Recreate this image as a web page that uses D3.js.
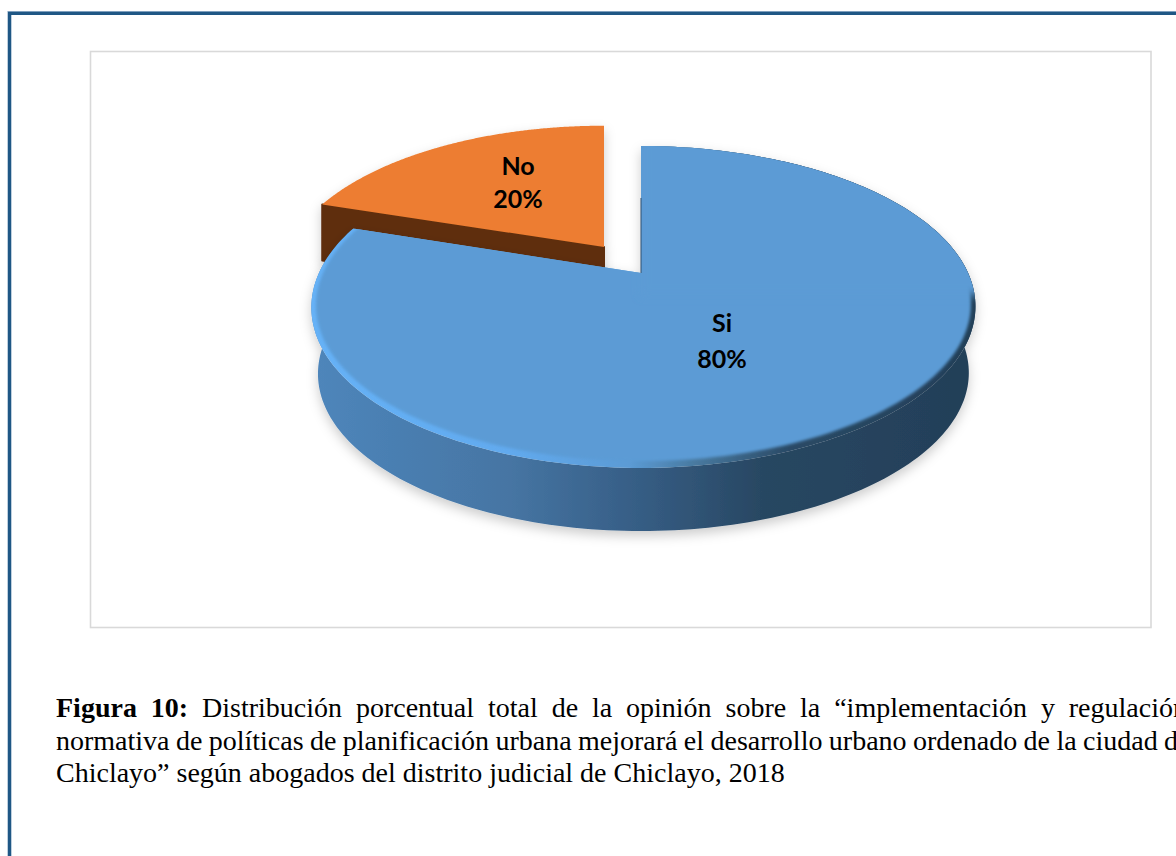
<!DOCTYPE html>
<html><head><meta charset="utf-8">
<script src="https://cdn.jsdelivr.net/npm/d3@7"></script>
<style>html,body{margin:0;padding:0;background:#fff;overflow:hidden}svg{display:block}</style>
</head><body><svg id="c" width="1176" height="856"></svg>
<script>
const categories = ["Si", "No"];
const values = [80, 20];
const percentLabels = ["80%", "20%"];
const captionBold = "Figura 10:";
const captionLines = [
  "Distribución porcentual total de la opinión sobre la “implementación y regulación",
  "normativa de políticas de planificación urbana mejorará el desarrollo urbano ordenado de la ciudad de",
  "Chiclayo” según abogados del distrito judicial de Chiclayo, 2018"
];

const svg = d3.select("#c");
const defs = svg.append("defs");

// perspective projection of a unit disc
const K = 0.211, R = 324.6, S = 153.8, SKEW = 2.5;
function projector(ax, ay, rs, ss) {
  return (t) => {
    const x = Math.sin(t), v = -Math.cos(t), w = 1 - K * v;
    return [ax + R * rs * x / w + SKEW * x * x, ay + S * ss * v / w];
  };
}
const pie = d3.pie().sort(null).value(d => d)(values);
const sample = (a, b) => d3.range(0, 241).map(i => a + (b - a) * i / 240);
const line = d3.line();

const si = pie[0], no = pie[1];
const siTop = projector(641, 273, 1, 1);
const siBot = projector(641, 340, 0.98, 0.98);
const siIn = projector(641, 272, 0.986, 0.97);
const noTop = projector(604, 247, 0.98, 0.955);
const noBot = projector(604, 303, 0.98, 0.955);

// defs
const g1 = defs.append("linearGradient").attr("id", "wall").attr("gradientUnits", "userSpaceOnUse")
  .attr("x1", 311).attr("x2", 975).attr("y1", 0).attr("y2", 0);
[[0, "#4f86bb"], [0.12, "#4a7fb2"], [0.3, "#4675a3"], [0.48, "#375f87"], [0.68, "#284762"], [1, "#233f58"]]
  .forEach(d => g1.append("stop").attr("offset", d[0]).attr("stop-color", d[1]));
const g2 = defs.append("linearGradient").attr("id", "rim").attr("gradientUnits", "userSpaceOnUse")
  .attr("x1", 311).attr("x2", 975).attr("y1", 0).attr("y2", 0);
[[0, "#66b2f7"], [0.3, "#62aaee"], [0.48, "#5b9bd5"], [0.58, "#48799f"], [0.72, "#2a4a66"], [1, "#233f58"]]
  .forEach(d => g2.append("stop").attr("offset", d[0]).attr("stop-color", d[1]));
const sh = defs.append("filter").attr("id", "shadow").attr("x", "-10%").attr("y", "-10%").attr("width", "120%").attr("height", "125%");
sh.append("feDropShadow").attr("dx", 0).attr("dy", 5).attr("stdDeviation", 6).attr("flood-color", "#000").attr("flood-opacity", 0.2);
defs.append("filter").attr("id", "blur").append("feGaussianBlur").attr("stdDeviation", 1.6);
defs.append("filter").attr("id", "blur2").attr("x", "-10%").attr("y", "-10%").attr("width", "120%").attr("height", "120%")
  .append("feGaussianBlur").attr("stdDeviation", 5);

const facePath = (f, a, b, apex) => line([apex, ...sample(a, b).map(f)]) + "Z";
const sidePath = (ft, fb, a, b) => line([...sample(a, b).map(ft), ...sample(a, b).reverse().map(fb)]) + "Z";

// frames
svg.append("rect").attr("x", 90.5).attr("y", 51.5).attr("width", 1060.5).attr("height", 576)
  .attr("fill", "#fff").attr("stroke", "#d9d9d9").attr("stroke-width", 1.6);
svg.append("path").attr("d", "M9.5 856V13H1176").attr("fill", "none").attr("stroke", "#7f9fbd").attr("stroke-width", 4);
svg.append("path").attr("d", "M9.5 856V13.5H1176").attr("fill", "none").attr("stroke", "#1f5785").attr("stroke-width", 3);

// No slice
const gNo = svg.append("g").attr("filter", "url(#shadow)");
gNo.append("path").attr("d", () => {
  const c0 = noTop(no.startAngle), c1 = noBot(no.startAngle);
  return line([[604, 247], c0, c1, [604, 303]]) + "Z";
}).attr("fill", "#5f2f0e").attr("stroke", "#5f2f0e").attr("stroke-width", 2).attr("stroke-linejoin", "round");
gNo.append("path").attr("d", facePath(noTop, no.startAngle, no.endAngle, [604, 247])).attr("fill", "#ed7d31");

// Si slice
const gSi = svg.append("g");
const gSiBody = gSi.append("g").attr("filter", "url(#shadow)");
gSiBody.append("path").attr("d", sidePath(siTop, siBot, si.startAngle, si.endAngle)).attr("fill", "url(#wall)");
const dSi = facePath(siTop, si.startAngle, si.endAngle, [641, 273]);
gSiBody.append("path").attr("d", dSi).attr("fill", "url(#rim)");
defs.append("clipPath").attr("id", "siClip").append("path").attr("d", dSi);
const clipped = gSi.append("g").attr("clip-path", "url(#siClip)");
clipped.append("path").attr("d", line(sample(0, 2 * Math.PI).map(siIn)) + "Z")
  .attr("fill", "#5b9bd5").attr("filter", "url(#blur)");
clipped.append("rect").attr("x", 641).attr("y", 130).attr("width", 360).attr("height", 165)
  .attr("fill", "#5b9bd5").attr("filter", "url(#blur2)");
gSi.append("path").attr("d", line([siTop(si.startAngle).map((d, i) => i ? d + 52 : d), [641, 273]]))
  .attr("stroke", "#2c4f70").attr("stroke-width", 1).attr("fill", "none");

// Labels
const labelXY = [[722, 332], [518, 175]];
const lg = svg.append("g").attr("font-family", "Lato, Carlito, sans-serif").attr("font-weight", 700)
  .attr("font-size", 25).attr("fill", "#000").attr("text-anchor", "middle");
categories.forEach((c, i) => {
  lg.append("text").attr("x", labelXY[i][0]).attr("y", labelXY[i][1]).text(c);
  lg.append("text").attr("x", labelXY[i][0]).attr("y", labelXY[i][1] + 36 - i * 3).text(percentLabels[i]);
});

// Caption
const cap = svg.append("g").attr("font-family", "'Liberation Serif', serif").attr("font-size", 28).attr("fill", "#000");
const t1 = cap.append("text").attr("x", 56).attr("y", 717).attr("word-spacing", 6.9);
t1.append("tspan").attr("font-weight", 700).text(captionBold);
t1.append("tspan").text(" " + captionLines[0]);
cap.append("text").attr("x", 56).attr("y", 749.5).attr("word-spacing", -0.6).text(captionLines[1]);
cap.append("text").attr("x", 56).attr("y", 782).text(captionLines[2]);
</script></body></html>
